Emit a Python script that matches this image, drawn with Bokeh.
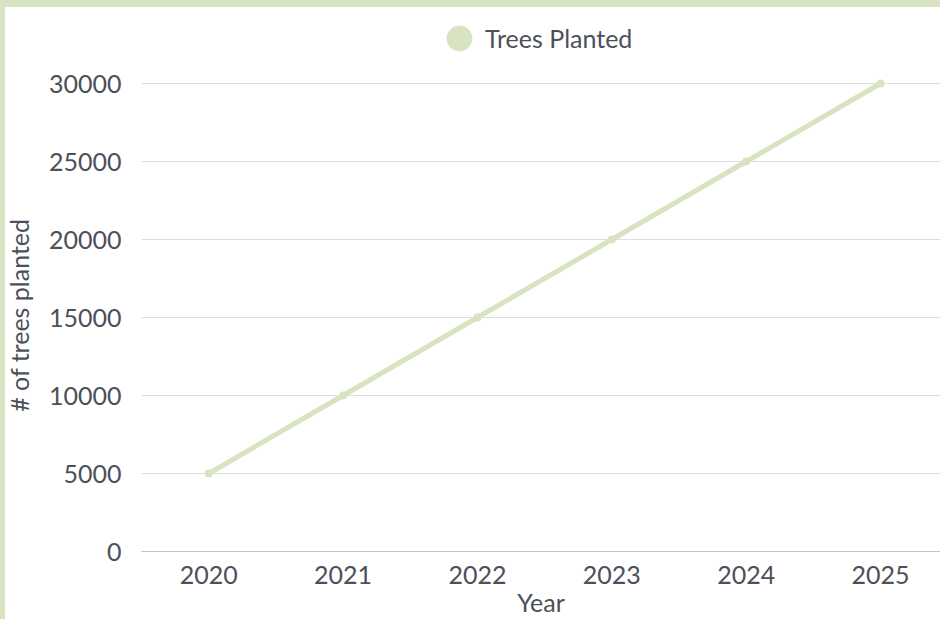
from bokeh.plotting import figure
from bokeh.models import Range1d, FixedTicker, Legend, LegendItem
from bokeh.embed import file_html
from bokeh.resources import INLINE

years = [2020, 2021, 2022, 2023, 2024, 2025]
trees = [5000, 10000, 15000, 20000, 25000, 30000]
y_ticks = [0, 5000, 10000, 15000, 20000, 25000, 30000]
series_name = "Trees Planted"
x_title = "Year"
y_title = "# of trees planted"

GREEN = "#d8e4c1"
TEXT = "#4b5059"
FONT = "Lato"

p = figure(width=940, height=619, output_backend="svg", toolbar_location=None,
           x_range=Range1d(2019.5, 2025.446), y_range=Range1d(0, 34808),
           min_border_left=141, min_border_right=0, min_border_top=8, min_border_bottom=68,
           styles={"box-shadow": f"inset 5px 7px 0 0 {GREEN}"})
p.outline_line_color = None
p.background_fill_color = "white"
p.border_fill_alpha = 0

p.line(years, trees, line_color=GREEN, line_width=5)
pts = p.scatter(years, trees, size=3, fill_color=GREEN, line_color=GREEN, line_width=5)

p.xgrid.grid_line_color = None
p.ygrid.grid_line_color = "#dedede"
p.ygrid.grid_line_width = 1

p.xaxis.ticker = FixedTicker(ticks=years)
p.yaxis.ticker = FixedTicker(ticks=y_ticks)
p.yaxis.formatter.use_scientific = False

for ax in (p.xaxis[0], p.yaxis[0]):
    ax.major_tick_line_color = None
    ax.minor_tick_line_color = None
    ax.major_label_text_font = FONT
    ax.major_label_text_font_size = "25px"
    ax.major_label_text_color = TEXT
    ax.axis_label_text_font = FONT
    ax.axis_label_text_font_size = "25px"
    ax.axis_label_text_font_style = "normal"
    ax.axis_label_text_color = TEXT

p.yaxis.axis_line_color = None
p.yaxis.major_label_standoff = 14
# trailing no-break spaces keep the title centred on the 0–30000 span
p.yaxis.axis_label = y_title + "\u00a0" * 11
p.yaxis.axis_label_standoff = 12
p.xaxis.axis_line_color = "#c4c4c8"
p.xaxis.major_label_standoff = 8
p.xaxis.axis_label = x_title
p.xaxis.axis_label_standoff = 0

legend = Legend(items=[LegendItem(label=series_name, renderers=[pts])],
                location=(292, 487), orientation="horizontal",
                glyph_width=52, glyph_height=52, label_standoff=0,
                padding=0, margin=0, spacing=0,
                border_line_color=None, background_fill_alpha=0,
                label_text_font=FONT, label_text_font_size="25px",
                label_text_color=TEXT)
p.add_layout(legend, "center")

open("out.html", "w").write(file_html(p, INLINE))
